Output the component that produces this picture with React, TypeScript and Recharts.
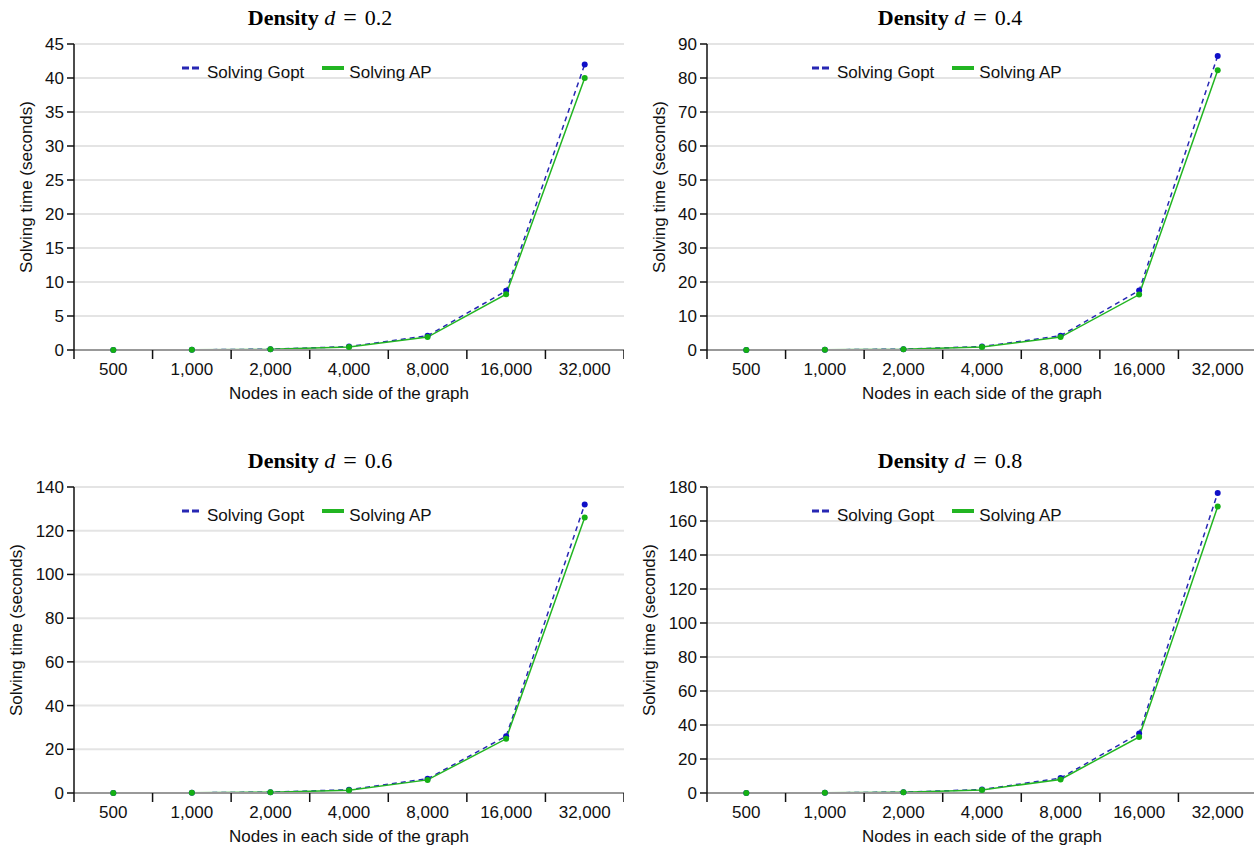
import React from "react";
import { CartesianGrid, Line, LineChart, XAxis, YAxis } from "recharts";

const categories = ["500", "1,000", "2,000", "4,000", "8,000", "16,000", "32,000"];

const goptD02 = [0.01, 0.03, 0.12, 0.5, 2.1, 8.7, 42.0];
const apD02 = [0.01, 0.02, 0.1, 0.45, 1.9, 8.2, 40.0];
const goptD04 = [0.02, 0.06, 0.25, 1.0, 4.2, 17.5, 86.5];
const apD04 = [0.02, 0.05, 0.2, 0.9, 3.8, 16.3, 82.3];
const goptD06 = [0.03, 0.1, 0.4, 1.5, 6.5, 26.0, 132.0];
const apD06 = [0.03, 0.09, 0.35, 1.3, 6.0, 24.8, 126.0];
const goptD08 = [0.04, 0.12, 0.5, 2.0, 8.8, 35.0, 176.5];
const apD08 = [0.04, 0.1, 0.45, 1.8, 8.0, 33.0, 168.5];

const yTicksD02 = [0, 5, 10, 15, 20, 25, 30, 35, 40, 45];
const yTicksD04 = [0, 10, 20, 30, 40, 50, 60, 70, 80, 90];
const yTicksD06 = [0, 20, 40, 60, 80, 100, 120, 140];
const yTicksD08 = [0, 20, 40, 60, 80, 100, 120, 140, 160, 180];

const PLOT_W = 550;
const BAND = PLOT_W / categories.length;
const SANS = '"Liberation Sans", Arial, sans-serif';
const SERIF = '"Liberation Serif", "Times New Roman", serif';
const BLUE = "#2727b4";
const GREEN = "#22b522";
const FS = 17;

const panels = [
  { d: "0.2", gopt: goptD02, ap: apD02, yTicks: yTicksD02, left: 0, top: 0, axisX: 74, labelX: 26 },
  { d: "0.4", gopt: goptD04, ap: apD04, yTicks: yTicksD04, left: 630, top: 0, axisX: 77, labelX: 29 },
  { d: "0.6", gopt: goptD06, ap: apD06, yTicks: yTicksD06, left: 0, top: 443, axisX: 74, labelX: 16 },
  { d: "0.8", gopt: goptD08, ap: apD08, yTicks: yTicksD08, left: 630, top: 443, axisX: 77, labelX: 19 },
];

function XTick(props: any) {
  const { x, y, payload } = props;
  const i = payload.value;
  return (
    <g>
      <line x1={x} x2={x} y1={y} y2={y + 9} stroke="#111" strokeWidth={1.5} />
      {i < categories.length && (
        <text x={x + BAND / 2} y={y + 25} textAnchor="middle" fontSize={FS} fontFamily={SANS} fill="#111">
          {categories[i]}
        </text>
      )}
    </g>
  );
}

function LegendBox() {
  return (
    <div
      style={{
        position: "absolute",
        top: 62,
        left: 182,
        display: "flex",
        alignItems: "center",
        fontFamily: SANS,
        fontSize: FS,
        lineHeight: "22px",
        color: "#111",
        whiteSpace: "nowrap",
      }}
    >
      <svg width={18} height={10} style={{ marginRight: 7, marginTop: -10 }}>
        <line x1={0} x2={18} y1={5} y2={5} stroke={BLUE} strokeWidth={3} strokeDasharray="7 3" />
      </svg>
      <span>Solving Gopt</span>
      <svg width={22} height={10} style={{ marginLeft: 18, marginRight: 5, marginTop: -10 }}>
        <line x1={0} x2={22} y1={5} y2={5} stroke={GREEN} strokeWidth={4} />
      </svg>
      <span>Solving AP</span>
    </div>
  );
}

function Panel({ d, gopt, ap, yTicks, left, top, axisX, labelX }: any) {
  const data = categories.map((c, i) => ({ x: i + 0.5, name: c, gopt: gopt[i], ap: ap[i] }));
  const yMax = yTicks[yTicks.length - 1];
  return (
    <div style={{ position: "absolute", left, top, width: 630, height: 444 }}>
      <div
        style={{
          position: "absolute",
          top: 6,
          left: 0,
          width: 640,
          textAlign: "center",
          fontFamily: SERIF,
          fontSize: 22,
          lineHeight: "22px",
          color: "#000",
          whiteSpace: "nowrap",
        }}
      >
        <b>Density</b> <i>d</i>
        <span style={{ margin: "0 8px", fontSize: 24 }}>=</span>
        {d}
      </div>
      <LineChart width={axisX + PLOT_W} height={444} data={data} margin={{ top: 44, right: 0, left: 0, bottom: 44 }}>
        <CartesianGrid vertical={false} stroke="#e4e4e4" strokeWidth={2} />
        <XAxis
          dataKey="x"
          type="number"
          domain={[0, 7]}
          ticks={[0, 1, 2, 3, 4, 5, 6, 7]}
          interval={0}
          tickSize={0}
          tickMargin={0}
          tick={<XTick />}
          axisLine={{ stroke: "#999", strokeWidth: 2 }}
          height={50}
          label={{
            content: ({ viewBox }: any) => (
              <text
                x={viewBox.x + viewBox.width / 2}
                y={viewBox.y + 49}
                textAnchor="middle"
                fontSize={FS}
                fontFamily={SANS}
                fill="#111"
              >
                Nodes in each side of the graph
              </text>
            ),
          }}
        />
        <YAxis
          type="number"
          domain={[0, yMax]}
          ticks={yTicks}
          interval={0}
          width={axisX}
          tickSize={7}
          tickMargin={3}
          tick={{ fontSize: FS, fontFamily: SANS, fill: "#111" }}
          axisLine={{ stroke: "#111", strokeWidth: 1.5 }}
          tickLine={{ stroke: "#111", strokeWidth: 1.5 }}
          label={{
            content: ({ viewBox }: any) => {
              const cy = viewBox.y + viewBox.height / 2 - 10;
              return (
                <text
                  x={labelX}
                  y={cy}
                  transform={`rotate(-90 ${labelX} ${cy})`}
                  textAnchor="middle"
                  dominantBaseline="central"
                  fontSize={FS}
                  fontFamily={SANS}
                  fill="#111"
                >
                  Solving time (seconds)
                </text>
              );
            },
          }}
        />
        <Line
          dataKey="gopt"
          name="Solving Gopt"
          stroke={BLUE}
          strokeWidth={1.5}
          strokeDasharray="5 4"
          dot={{ r: 3, fill: "#1010c8", stroke: "none" }}
          type="linear"
          isAnimationActive={false}
        />
        <Line
          dataKey="ap"
          name="Solving AP"
          stroke={GREEN}
          strokeWidth={1.5}
          dot={{ r: 3, fill: "#14b014", stroke: "none" }}
          type="linear"
          isAnimationActive={false}
        />
      </LineChart>
      <LegendBox />
    </div>
  );
}

export default function App() {
  return (
    <div
      style={{
        position: "absolute",
        left: 0,
        top: 0,
        width: 1254,
        height: 848,
        overflow: "hidden",
        background: "#fff",
      }}
    >
      {panels.map((p) => (
        <Panel key={p.d} {...p} />
      ))}
    </div>
  );
}
